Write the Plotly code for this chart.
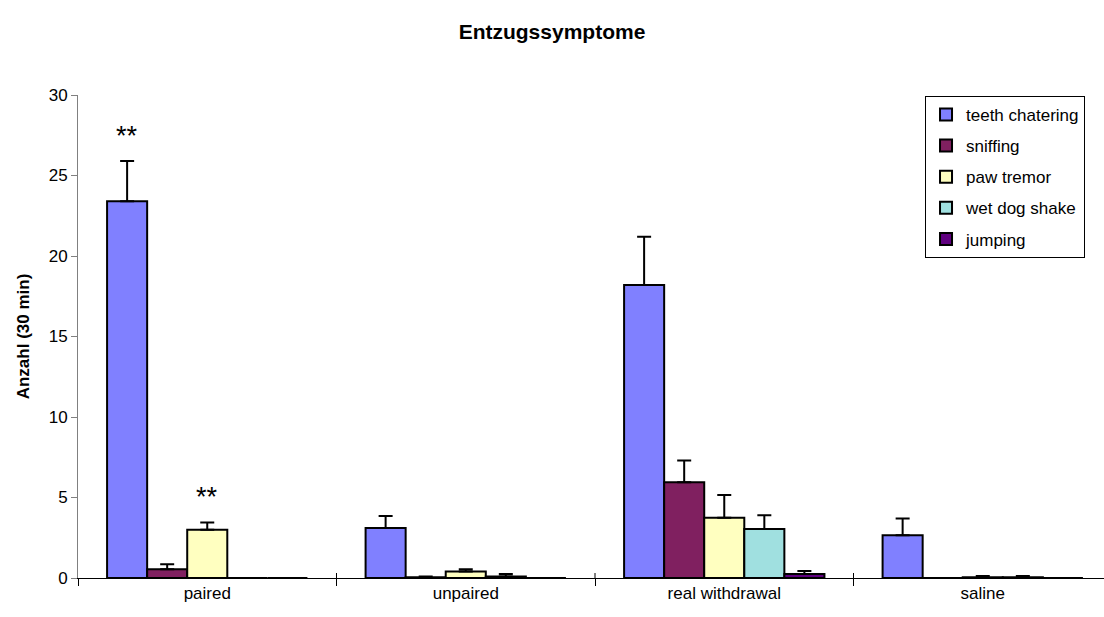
import plotly.graph_objects as go

# Groups and symptom series
groups = ["paired", "unpaired", "real withdrawal", "saline"]
symptoms = ["teeth chatering", "sniffing", "paw tremor", "wet dog shake", "jumping"]

# Mean counts per 30 min, one list per symptom (order follows `groups`)
teeth_chatering = [23.4, 3.1, 18.2, 2.65]
sniffing = [0.55, 0.05, 5.95, 0.0]
paw_tremor = [3.0, 0.4, 3.75, 0.05]
wet_dog_shake = [0.0, 0.1, 3.05, 0.05]
jumping = [0.0, 0.0, 0.25, 0.0]

# Standard errors (drawn upward only)
teeth_chatering_err = [2.5, 0.75, 3.0, 1.05]
sniffing_err = [0.3, 0.05, 1.35, 0.0]
paw_tremor_err = [0.45, 0.15, 1.4, 0.08]
wet_dog_shake_err = [0.0, 0.15, 0.85, 0.08]
jumping_err = [0.0, 0.0, 0.18, 0.0]

values = [teeth_chatering, sniffing, paw_tremor, wet_dog_shake, jumping]
errors = [teeth_chatering_err, sniffing_err, paw_tremor_err, wet_dog_shake_err, jumping_err]
colors = ["#8080FF", "#802060", "#FFFFC0", "#A0E0E0", "#600080"]

# Significance markers: (group, symptom)
significance = [("paired", "teeth chatering"), ("paired", "paw tremor")]

FONT = "Liberation Sans, Arial, sans-serif"
BARGAP = 0.225

fig = go.Figure()
for name, vals, errs, col in zip(symptoms, values, errors, colors):
    fig.add_trace(go.Bar(
        name=name, x=groups, y=vals, legendgroup=name,
        marker=dict(color=col, line=dict(color="black", width=2)),
        error_y=dict(type="data", array=errs, arrayminus=[0] * len(errs),
                     symmetric=False, color="black", thickness=2, width=7),
    ))

# "**" above the flagged bars
n = len(symptoms)
slot = (1 - BARGAP) / n
for grp, sym in significance:
    gi = groups.index(grp)
    si = symptoms.index(sym)
    xpos = gi - (1 - BARGAP) / 2 + slot * (si + 0.5)
    top = values[si][gi] + errors[si][gi]
    fig.add_annotation(x=xpos, y=top, yshift=25, text="**", showarrow=False,
                       font=dict(family=FONT, size=27, color="black"),
                       xanchor="center", yanchor="middle")

# tick marks on the category boundaries, reaching up into the plot area
for b in range(len(groups) - 1):
    fig.add_shape(type="line", xref="x", yref="y", x0=b + 0.5, x1=b + 0.5,
                  ysizemode="pixel", yanchor=0, y0=0, y1=5,
                  line=dict(color="black", width=1))

fig.update_layout(
    width=1104, height=617,
    margin=dict(l=78, r=0, t=95, b=39),
    paper_bgcolor="white", plot_bgcolor="white",
    barmode="group", bargap=BARGAP, bargroupgap=0,
    font=dict(family=FONT, size=17, color="black"),
    title=dict(text="<b>Entzugssymptome</b>", x=0.5, xanchor="center",
               y=1 - 32 / 617, yanchor="middle", yref="container",
               font=dict(family=FONT, size=21, color="black")),
    showlegend=True,
    legend=dict(x=0.9815, y=0.998, xanchor="right", yanchor="top",
                bordercolor="black", borderwidth=1, bgcolor="white",
                font=dict(family=FONT, size=17, color="black"),
                traceorder="grouped", tracegroupgap=6),
    xaxis=dict(type="category", range=[-0.5, 3.469], showline=True,
               linecolor="black", linewidth=1, ticks="outside",
               tickson="boundaries", ticklen=7, tickcolor="black",
               showgrid=False, zeroline=False,
               tickfont=dict(family=FONT, size=17)),
    yaxis=dict(range=[0, 30], dtick=5, showline=True, linecolor="#808080",
               linewidth=1, ticks="outside", ticklen=6, tickcolor="#808080",
               showgrid=False, zeroline=False,
               tickfont=dict(family=FONT, size=17),
               title=dict(text="<b>Anzahl (30 min)</b>", standoff=14,
                          font=dict(family=FONT, size=17))),
)

fig.write_html("out.html")
